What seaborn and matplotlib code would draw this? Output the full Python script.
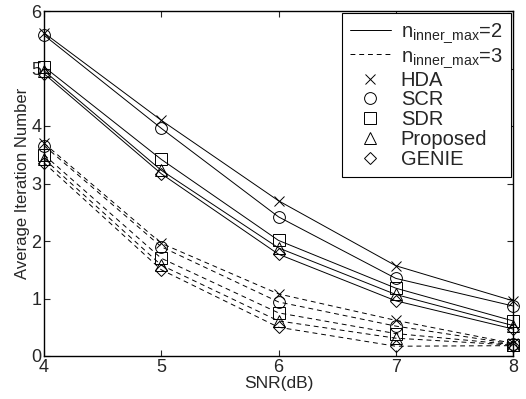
import numpy as np
import pandas as pd
import matplotlib
matplotlib.use('Agg')
import matplotlib.pyplot as plt
import seaborn as sns
from matplotlib.lines import Line2D

# Data
snr = [4, 5, 6, 7, 8]

# n_inner_max = 2 (solid)
hda_2 = [5.62, 4.10, 2.70, 1.57, 0.96]
scr_2 = [5.58, 3.96, 2.42, 1.35, 0.87]
sdr_2 = [5.03, 3.42, 2.01, 1.18, 0.61]
prop_2 = [4.96, 3.23, 1.88, 1.07, 0.53]
genie_2 = [4.91, 3.17, 1.77, 0.96, 0.47]

# n_inner_max = 3 (dashed)
hda_3 = [3.70, 1.96, 1.08, 0.62, 0.22]
scr_3 = [3.66, 1.90, 0.94, 0.52, 0.21]
sdr_3 = [3.50, 1.70, 0.75, 0.39, 0.20]
prop_3 = [3.43, 1.58, 0.61, 0.31, 0.19]
genie_3 = [3.36, 1.50, 0.50, 0.17, 0.18]

methods = ['HDA', 'SCR', 'SDR', 'Proposed', 'GENIE']
markers = ['x', 'o', 's', '^', 'D']
series_2 = [hda_2, scr_2, sdr_2, prop_2, genie_2]
series_3 = [hda_3, scr_3, sdr_3, prop_3, genie_3]

sns.set_style('ticks')
plt.rcParams['font.family'] = ['Liberation Sans', 'DejaVu Sans']
plt.rcParams['mathtext.fontset'] = 'custom'
plt.rcParams['mathtext.rm'] = 'Liberation Sans'
plt.rcParams['mathtext.it'] = 'Liberation Sans'

fig = plt.figure(figsize=(5.26, 3.99), dpi=100)
ax = fig.add_axes([44 / 526, 43 / 399, (513 - 44) / 526, (356 - 11) / 399])

msizes = {'x': 7, 'o': 8.5, 's': 8, '^': 8.5, 'D': 6.5}
dash = (0, (5, 4))

for vals2, vals3, m in zip(series_2, series_3, markers):
    for vals, ls in ((vals2, '-'), (vals3, dash)):
        sns.lineplot(x=snr, y=vals, ax=ax, color='k', linewidth=0.7, linestyle=ls,
                     marker=m, markersize=msizes[m], markerfacecolor='none',
                     markeredgecolor='k', markeredgewidth=0.7, clip_on=False)

ax.set_xlim(4, 8)
ax.set_ylim(0, 6)
ax.set_xticks(snr)
ax.set_yticks(range(0, 7))
ax.set_xlabel('SNR(dB)', fontsize=12.5, labelpad=0)
ax.set_ylabel('Average Iteration Number', fontsize=12, labelpad=1)
ax.tick_params(direction='in', length=4, width=0.8, labelsize=13,
               top=True, right=True, pad=2)
for sp in ax.spines.values():
    sp.set_visible(True)
    sp.set_linewidth(1.0)
    sp.set_color('k')

handles = [
    Line2D([], [], color='k', linewidth=0.7, linestyle='-'),
    Line2D([], [], color='k', linewidth=0.7, linestyle=dash),
]
labels = [r'n$_{\mathrm{inner\_max}}$=2', r'n$_{\mathrm{inner\_max}}$=3']
for name, m in zip(methods, markers):
    handles.append(Line2D([], [], color='k', linestyle='none', marker=m,
                          markersize=msizes[m], markerfacecolor='none',
                          markeredgewidth=0.7))
    labels.append(name)

leg = ax.legend(handles, labels, loc='upper right', fontsize=14.5,
                frameon=True, fancybox=False, framealpha=1, edgecolor='k',
                borderaxespad=0.12, handlelength=2.0, handletextpad=0.5,
                labelspacing=0.04, borderpad=0.4)
leg.get_frame().set_linewidth(0.8)

fig.savefig('out.png', dpi=100)
